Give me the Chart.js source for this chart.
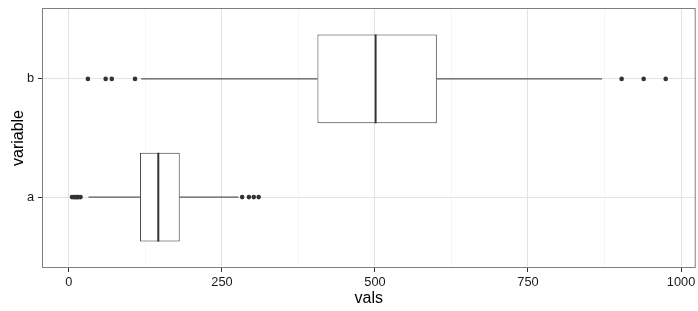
<!DOCTYPE html>
<html>
<head>
<meta charset="utf-8">
<script src="https://cdn.jsdelivr.net/npm/chart.js@4.4.1/dist/chart.umd.min.js"></script>
<style>
  html, body { margin: 0; padding: 0; background: #fff; }
  canvas { display: block; }
</style>
</head>
<body>
<canvas id="chart" width="698" height="311"></canvas>
<script>
// boxplot stats per category
const categories = ['a', 'b'];
const whiskerLow = [32, 118];
const q1 = [116, 406];
const median = [146, 501];
const q3 = [181, 601];
const whiskerHigh = [277, 871];
const outliersA = [5, 8, 10, 12, 14, 16, 19, 283, 294, 302, 310];
const outliersB = [31, 60, 70, 108, 903, 939, 975];

// axis ticks
const xMajorTicks = [0, 250, 500, 750, 1000];
const xMinorTicks = [125, 375, 625, 875];

const ink = '#333333';
const boxHalf = 0.375; // half of box height, in category units

Chart.defaults.font.family = "'Liberation Sans', Arial, sans-serif";
Chart.defaults.animation = false;

const isMajor = c => !!(c && c.tick && xMajorTicks.includes(c.tick.value));

const datasets = [];

// whiskers (drawn first, under the boxes)
categories.forEach((cat, i) => {
  const pos = i + 1;
  [[whiskerLow[i], q1[i]], [q3[i], whiskerHigh[i]]].forEach(([from, to]) => {
    datasets.push({
      type: 'line',
      order: 3,
      data: [{ x: from, y: pos }, { x: to, y: pos }],
      borderColor: ink,
      borderWidth: 1,
      pointRadius: 0,
      pointHoverRadius: 0,
      fill: false
    });
  });
});

// boxes as floating bars
datasets.push({
  type: 'bar',
  order: 2,
  indexAxis: 'y',
  data: categories.map((cat, i) => ({ x: [q1[i], q3[i]], y: i + 1 })),
  backgroundColor: '#ffffff',
  borderColor: ink,
  borderWidth: 1,
  borderSkipped: false,
  categoryPercentage: 1,
  barPercentage: 0.75
});

// medians
categories.forEach((cat, i) => {
  const pos = i + 1;
  datasets.push({
    type: 'line',
    order: 1,
    data: [{ x: median[i], y: pos - boxHalf }, { x: median[i], y: pos + boxHalf }],
    borderColor: ink,
    borderWidth: 2,
    pointRadius: 0,
    pointHoverRadius: 0,
    fill: false
  });
});

// outliers
const outlierPoints = [
  ...outliersA.map(v => ({ x: v, y: 1 })),
  ...outliersB.map(v => ({ x: v, y: 2 }))
];
datasets.push({
  type: 'scatter',
  order: 0,
  data: outlierPoints,
  backgroundColor: ink,
  borderColor: ink,
  borderWidth: 0,
  pointRadius: 2.3,
  pointHoverRadius: 2.3
});

// grey frame round the panel, like theme_bw
const panelBorder = {
  id: 'panelBorder',
  afterDatasetsDraw(chart) {
    const { ctx, chartArea: a } = chart;
    ctx.save();
    ctx.strokeStyle = '#7f7f7f';
    ctx.lineWidth = 1;
    ctx.strokeRect(a.left + 0.5, a.top + 0.5, a.right - a.left - 1, a.bottom - a.top - 1);
    ctx.restore();
  }
};

const tickFont = { size: 12.8 };

new Chart(document.getElementById('chart'), {
  type: 'bar',
  data: { datasets },
  plugins: [panelBorder],
  options: {
    responsive: false,
    events: [],
    layout: { padding: { top: 8, right: 1, bottom: 0, left: 0 } },
    plugins: {
      legend: { display: false },
      tooltip: { enabled: false }
    },
    scales: {
      x: {
        type: 'linear',
        offset: false,
        min: -44,
        max: 1024,
        afterBuildTicks: s => {
          s.ticks = [...xMajorTicks, ...xMinorTicks].sort((a, b) => a - b).map(v => ({ value: v }));
        },
        afterFit: s => {
          s.height = 43;
          s.paddingLeft = 0;
          s.paddingRight = 0;
        },
        border: { display: false },
        grid: {
          offset: false,
          color: c => isMajor(c) ? '#e3e3e3' : '#f6f6f6',
          tickColor: c => isMajor(c) ? ink : 'rgba(0,0,0,0)',
          tickLength: 4,
          lineWidth: 1
        },
        ticks: {
          autoSkip: false,
          maxRotation: 0,
          padding: 3,
          color: '#1a1a1a',
          font: tickFont,
          callback: v => xMajorTicks.includes(v) ? String(v) : ''
        },
        title: {
          display: true,
          text: 'vals',
          color: '#000',
          font: { size: 16 },
          padding: { top: 0, bottom: 3 }
        }
      },
      y: {
        type: 'linear',
        offset: false,
        min: 0.4,
        max: 2.6,
        afterBuildTicks: s => {
          s.ticks = categories.map((c, i) => ({ value: i + 1 }));
        },
        afterFit: s => {
          s.width = 42;
          s.paddingTop = 0;
          s.paddingBottom = 0;
        },
        border: { display: false },
        grid: {
          offset: false,
          color: '#e3e3e3',
          tickColor: ink,
          tickLength: 4,
          lineWidth: 1
        },
        ticks: {
          autoSkip: false,
          padding: 4,
          color: '#1a1a1a',
          font: tickFont,
          callback: v => categories[Math.round(v) - 1] || ''
        },
        title: {
          display: true,
          text: 'variable',
          color: '#000',
          font: { size: 16 },
          padding: { top: 9, bottom: 0 }
        }
      }
    }
  }
});
</script>
</body>
</html>
